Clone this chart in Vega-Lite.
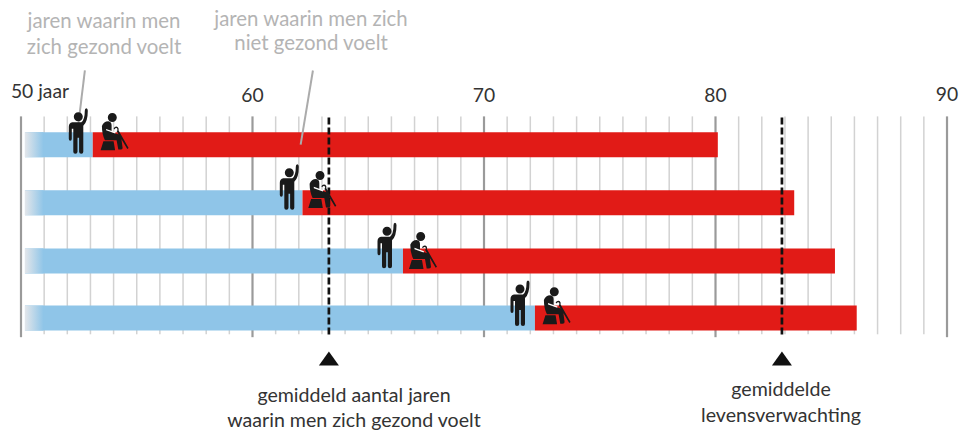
{"$schema":"https://vega.github.io/schema/vega-lite/v6.json","width":974,"height":432,"padding":0,"autosize":{"type":"none"},"background":"white","view":{"stroke":null},
"datasets":{
"bars":[{"row":1,"start":50.17,"healthyEnd":53.1,"end":80.1},{"row":2.005,"start":50.17,"healthyEnd":62.16,"end":83.4},{"row":3.01,"start":50.17,"healthyEnd":66.5,"end":85.16},{"row":4,"start":50.17,"healthyEnd":72.2,"end":86.1}],
"grid":[{"year":51},{"year":52},{"year":53},{"year":54},{"year":55},{"year":56},{"year":57},{"year":58},{"year":59},{"year":61},{"year":62},{"year":63},{"year":64},{"year":65},{"year":66},{"year":67},{"year":68},{"year":69},{"year":71},{"year":72},{"year":73},{"year":74},{"year":75},{"year":76},{"year":77},{"year":78},{"year":79},{"year":81},{"year":82},{"year":83},{"year":84},{"year":85},{"year":86},{"year":87},{"year":88},{"year":89}],
"major":[{"year":50,"label":"50 jaar","lx":50.82,"ly":0.08},{"year":60,"label":"60","lx":60,"ly":0.155},{"year":70,"label":"70","lx":70,"ly":0.155},{"year":80,"label":"80","lx":80,"ly":0.155},{"year":90,"label":"90","lx":90,"ly":0.14}],
"means":[{"year":63.3},{"year":82.87}],
"leaders":[{"x1":52.76,"y1":-0.284,"x2":52.4,"y2":0.9},{"x1":62.61,"y1":-0.284,"x2":62.08,"y2":1.0}],
"standing":[{"age":52.475,"row":0.775},{"age":61.59,"row":1.744},{"age":65.81,"row":2.758},{"age":71.555,"row":3.755}],
"seated":[{"age":53.914,"row":0.865},{"age":62.886,"row":1.867},{"age":67.235,"row":2.922},{"age":73.006,"row":3.878}],
"grey":[{"t":"jaren waarin men","x":53.585,"y":-1.129},{"t":"zich gezond voelt","x":53.585,"y":-0.68},{"t":"jaren waarin men zich","x":62.527,"y":-1.163},{"t":"niet gezond voelt","x":62.527,"y":-0.74}],
"dark":[{"t":"gemiddeld aantal jaren","x":64.384,"y":5.344},{"t":"waarin men zich gezond voelt","x":64.384,"y":5.783},{"t":"gemiddelde","x":82.83,"y":5.25},{"t":"levensverwachting","x":82.83,"y":5.69}]
},
"encoding":{},
"resolve":{"scale":{"x":"shared","y":"shared"}},
"layer":[
{"data":{"name":"grid"},"mark":{"type":"rule","color":"#d2d2d2","strokeWidth":1.5},"encoding":{"x":{"field":"year","type":"quantitative","scale":{"domain":[49.093,91.166],"nice":false,"zero":false},"axis":null},"y":{"datum":0.51,"type":"quantitative","scale":{"domain":[-1.417,5.884],"reverse":true,"nice":false,"zero":false},"axis":null},"y2":{"datum":4.28}}},
{"data":{"name":"major"},"mark":{"type":"rule","color":"#9a9a9a","strokeWidth":2.2},"encoding":{"x":{"field":"year","type":"quantitative"},"y":{"datum":0.51,"type":"quantitative"},"y2":{"datum":4.33}}},
{"data":{"name":"major"},"mark":{"type":"text","font":"Lato","fontSize":19.3,"color":"#333333","align":"center","baseline":"middle"},"encoding":{"x":{"field":"lx","type":"quantitative"},"y":{"field":"ly","type":"quantitative"},"text":{"field":"label"}}},
{"data":{"name":"bars"},"mark":{"type":"bar","orient":"horizontal","size":25,"color":"#8fc5e8"},"encoding":{"x":{"field":"start","type":"quantitative"},"x2":{"field":"healthyEnd"},"y":{"field":"row","type":"quantitative"}}},
{"data":{"name":"bars"},"transform":[{"calculate":"datum.start+0.8","as":"fadeEnd"}],"mark":{"type":"bar","orient":"horizontal","size":25,"color":{"gradient":"linear","x1":0,"x2":1,"y1":0,"y2":0,"stops":[{"offset":0,"color":"#e3e6ea"},{"offset":1,"color":"#8fc5e8"}]}},"encoding":{"x":{"field":"start","type":"quantitative"},"x2":{"field":"fadeEnd"},"y":{"field":"row","type":"quantitative"}}},
{"data":{"name":"bars"},"mark":{"type":"bar","orient":"horizontal","size":25,"color":"#e11b17"},"encoding":{"x":{"field":"healthyEnd","type":"quantitative"},"x2":{"field":"end"},"y":{"field":"row","type":"quantitative"}}},
{"data":{"name":"means"},"mark":{"type":"rule","color":"#111111","strokeWidth":2.7,"strokeDash":[7,3]},"encoding":{"x":{"field":"year","type":"quantitative"},"y":{"datum":0.53,"type":"quantitative"},"y2":{"datum":4.33}}},
{"data":{"name":"means"},"mark":{"type":"point","filled":true,"opacity":1,"size":4,"color":"#111111","shape":"M-10 7L0 -7L10 7Z"},"encoding":{"x":{"field":"year","type":"quantitative"},"y":{"datum":4.7,"type":"quantitative"}}},
{"data":{"name":"leaders"},"mark":{"type":"rule","color":"#ababab","strokeWidth":2},"encoding":{"x":{"field":"x1","type":"quantitative"},"x2":{"field":"x2"},"y":{"field":"y1","type":"quantitative"},"y2":{"field":"y2"}}},
{"data":{"name":"standing"},"mark":{"type":"point","filled":true,"opacity":1,"size":4,"color":"#1a1a1a","shape":"M-4.5 -15a4.5 4.5 0 1 0 9 0a4.5 4.5 0 1 0 -9 0ZM-6 -9.5Q-9.5 -9 -9.5 -5L-9.5 7Q-9.5 9 -8 9Q-6.5 9 -6.5 7L-6.5 -3L-5 -3L-5 20Q-5 22 -3 22Q-0.8 22 -0.8 20L-0.8 6L0.8 6L0.8 20Q0.8 22 3 22Q5 22 5 20L5 -6Q9.5 -10 9.5 -21Q9.5 -23.5 8 -23.5Q6.5 -23.5 6.5 -21Q6.5 -12 3 -9.5Z"},"encoding":{"x":{"field":"age","type":"quantitative"},"y":{"field":"row","type":"quantitative"}}},
{"data":{"name":"seated"},"mark":{"type":"point","filled":true,"opacity":1,"size":4,"color":"#1a1a1a","shape":"M-3.8 -19.3a4.5 4.5 0 1 0 9 0a4.5 4.5 0 1 0 -9 0ZM-9.7 -11Q-8 -15.7 -3.3 -15.7Q0 -15 0 -11.7L0 -5L9.3 -1.7L11 11Q11 12.7 9 12.7L6.7 12.7L5 3.3L-6.7 3.3Q-9.7 -3 -9.7 -11ZM-8.2 4.3L2 4.3L3.5 13.3L-11 13.3ZM5 -6L6.7 -7L17 11L15.7 12ZM2 -8.5Q3.5 -11 6 -10Q7.5 -9 7 -6.5L5.8 -6.5Q6 -8.5 5 -8.8Q3.5 -9 3 -7.5Z"},"encoding":{"x":{"field":"age","type":"quantitative"},"y":{"field":"row","type":"quantitative"}}},
{"data":{"name":"seated"},"mark":{"type":"point","filled":true,"opacity":1,"size":4,"color":"#ffffff","shape":"M-5.5 -8L4 -4.6L3.6 -3.4L-5.5 -6.6Z"},"encoding":{"x":{"field":"age","type":"quantitative"},"y":{"field":"row","type":"quantitative"}}},
{"data":{"name":"grey"},"mark":{"type":"text","font":"Lato","fontSize":20.4,"color":"#b4b4b4","align":"center","baseline":"middle"},"encoding":{"x":{"field":"x","type":"quantitative"},"y":{"field":"y","type":"quantitative"},"text":{"field":"t"}}},
{"data":{"name":"dark"},"mark":{"type":"text","font":"Lato","fontSize":19.6,"color":"#333333","align":"center","baseline":"middle"},"encoding":{"x":{"field":"x","type":"quantitative"},"y":{"field":"y","type":"quantitative"},"text":{"field":"t"}}}
]}
